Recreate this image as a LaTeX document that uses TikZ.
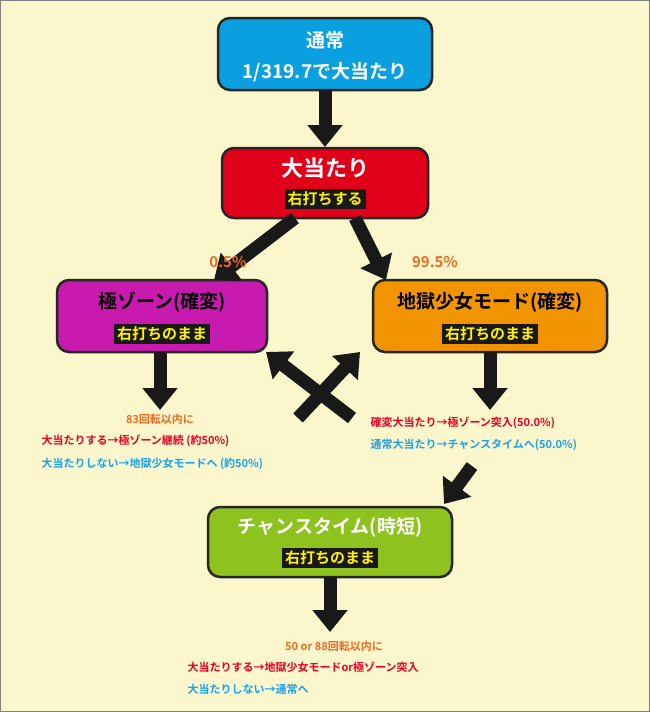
\documentclass[tikz,border=0pt]{standalone}
\usepackage{fontspec}
\setmainfont{Noto Sans CJK JP}[BoldFont={Noto Sans CJK JP Bold}]
\usetikzlibrary{arrows.meta}
\definecolor{bg}{HTML}{FBF6CC}
\definecolor{cy}{HTML}{0AA0E0}
\definecolor{rd}{HTML}{E0001A}
\definecolor{mg}{HTML}{C81AAE}
\definecolor{orb}{HTML}{F29400}
\definecolor{gr}{HTML}{8DC21F}
\definecolor{ot}{HTML}{EE6A1E}
\definecolor{rt}{HTML}{E6001F}
\definecolor{bt}{HTML}{1BA1E6}
\definecolor{yl}{HTML}{FFF100}
\begin{document}
\begin{tikzpicture}[x=1pt,y=-1pt,
 box/.style={draw=black!85,line width=2.5pt,rounded corners=12pt},
 ttl/.style={font=\bfseries\fontsize{19}{22}\selectfont},
 lab/.style={fill=black!90,text=yl,font=\bfseries\fontsize{15}{17}\selectfont,inner sep=3pt},
 arr/.style={line width=13pt,-{Triangle[width=34pt,length=22pt]},black!90},
 sm/.style={font=\bfseries\fontsize{11}{13}\selectfont}]
\fill[bg,draw=gray,line width=1pt] (0.5,0.5) rectangle (649.5,711.5);
\useasboundingbox (0,0) rectangle (650,712);
% boxes
\draw[box,fill=cy] (218,18) rectangle (432,90);
\node[ttl,text=white] (t1) at (325,40) {通常};
\node[ttl,text=white] (t1b) at (325,72) {1/319.7で大当たり};
\draw[box,fill=rd] (222,148) rectangle (428,218);
\node[ttl,text=white,font=\bfseries\fontsize{22}{24}\selectfont] (t2) at (325,168) {大当たり};
\node[lab] (l2) at (325,199) {右打ちする};
\draw[box,fill=mg] (57,280) rectangle (267,352);
\node[ttl,text=black] (t3) at (162,302) {極ゾーン(確変)};
\node[lab] (l3) at (162,334) {右打ちのまま};
\draw[box,fill=orb] (373,280) rectangle (607,352);
\node[ttl,text=black] (t4) at (490,302) {地獄少女モード(確変)};
\node[lab] (l4) at (490,334) {右打ちのまま};
\draw[box,fill=gr] (208,507) rectangle (452,577);
\node[ttl,text=white] (t5) at (330,527) {チャンスタイム(時短)};
\node[lab] (l5) at (330,558) {右打ちのまま};
% coordinates
\coordinate (a1s) at (325,90); \coordinate (a1e) at (325,147);
\coordinate (a2s) at (295,218); \coordinate (a2e) at (214,280);
\coordinate (a3s) at (355,218); \coordinate (a3e) at (386,280);
\coordinate (a4s) at (160,352); \coordinate (a4e) at (160,410);
\coordinate (a5s) at (490,352); \coordinate (a5e) at (490,410);
\coordinate (a6s) at (352,418); \coordinate (a6e) at (266,352);
\coordinate (a7s) at (298,418); \coordinate (a7e) at (360,352);
\coordinate (a8s) at (472,466); \coordinate (a8e) at (444,504);
\coordinate (a9s) at (330,577); \coordinate (a9e) at (330,632);
\foreach \s/\e in {a1s/a1e,a2s/a2e,a3s/a3e,a4s/a4e,a5s/a5e,a6s/a6e,a7s/a7e,a8s/a8e,a9s/a9e}
  \draw[arr] (\s) -- (\e);
% texts
\node[text=ot,font=\bfseries\fontsize{15}{17}\selectfont] (p1) at (228,262) {0.5\%};
\node[text=ot,font=\bfseries\fontsize{15}{17}\selectfont] (p2) at (435,262) {99.5\%};
\node[sm,text=ot] (x1) at (160,419) {83回転以内に};
\node[sm,text=rt,anchor=west] (x2) at (38,441) {大当たりする→極ゾーン継続 (約50\%)};
\node[sm,text=bt,anchor=west] (x3) at (38,464) {大当たりしない→地獄少女モードへ (約50\%)};
\node[sm,text=rt,anchor=west] (y1) at (367,423) {確変大当たり→極ゾーン突入(50.0\%)};
\node[sm,text=bt,anchor=west] (y2) at (367,445) {通常大当たり→チャンスタイムへ(50.0\%)};
\node[sm,text=ot] (z1) at (334,646) {50 or 88回転以内に};
\node[sm,text=rt,anchor=west] (z2) at (184,667) {大当たりする→地獄少女モードor極ゾーン突入};
\node[sm,text=bt,anchor=west] (z3) at (184,689) {大当たりしない→通常へ};
\end{tikzpicture}
\end{document}
